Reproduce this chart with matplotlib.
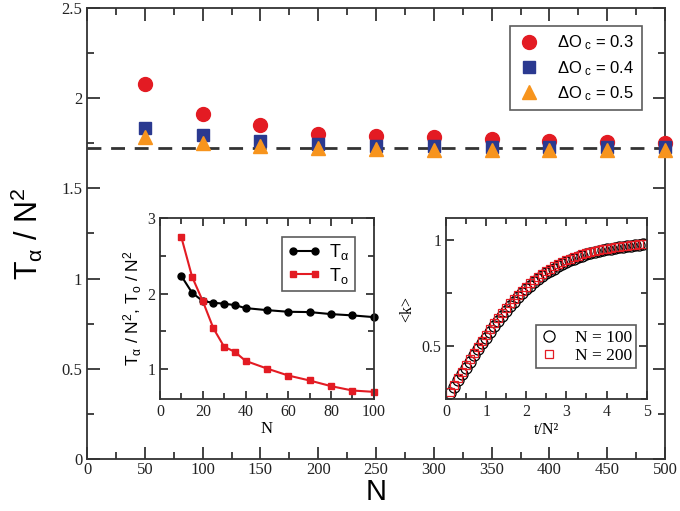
import matplotlib
matplotlib.use("Agg")
import matplotlib.pyplot as plt
from matplotlib.ticker import MultipleLocator, FormatStrFormatter

plt.rcParams['mathtext.fontset'] = 'custom'
plt.rcParams['mathtext.rm'] = 'Liberation Sans'
plt.rcParams['mathtext.it'] = 'Liberation Sans:italic'
plt.rcParams['mathtext.bf'] = 'Liberation Sans:bold'

SERIF = 'Liberation Serif'
SANS = 'Liberation Sans'

# ---- main panel data ----
N_main = [50, 100, 150, 200, 250, 300, 350, 400, 450, 500]
T_03 = [2.08, 1.91, 1.85, 1.803, 1.792, 1.783, 1.772, 1.763, 1.755, 1.754]
T_04 = [1.832, 1.797, 1.761, 1.745, 1.737, 1.734, 1.730, 1.728, 1.727, 1.727]
T_05 = [1.784, 1.753, 1.734, 1.722, 1.717, 1.713, 1.711, 1.710, 1.710, 1.710]
asymptote = 1.722
main_labels = [r'$\Delta$O$_{\ \mathregular{c}}$ = 0.3',
               r'$\Delta$O$_{\ \mathregular{c}}$ = 0.4',
               r'$\Delta$O$_{\ \mathregular{c}}$ = 0.5']

# ---- inset 1 data ----
N_in = [10, 15, 20, 25, 30, 35, 40, 50, 60, 70, 80, 90, 100]
T_alpha = [2.233, 2.011, 1.90, 1.878, 1.865, 1.847, 1.807, 1.78, 1.758, 1.754, 1.727, 1.71, 1.687]
T_o = [2.747, 2.224, 1.90, 1.537, 1.293, 1.226, 1.106, 1.004, 0.911, 0.845, 0.77, 0.712, 0.694]

# ---- inset 2 data ----
t_vals = [0.1, 0.2, 0.3, 0.4, 0.5, 0.6, 0.7, 0.8, 0.9, 1.0,
          1.1, 1.2, 1.3, 1.4, 1.5, 1.6, 1.7, 1.8, 1.9, 2.0,
          2.1, 2.2, 2.3, 2.4, 2.5, 2.6, 2.7, 2.8, 2.9, 3.0,
          3.1, 3.2, 3.3, 3.4, 3.5, 3.6, 3.7, 3.8, 3.9, 4.0,
          4.1, 4.2, 4.3, 4.4, 4.5, 4.6, 4.7, 4.8, 4.9]
k_100 = [0.281, 0.310, 0.340, 0.370, 0.398, 0.427, 0.456, 0.485, 0.513, 0.540,
         0.567, 0.593, 0.618, 0.643, 0.666, 0.688, 0.709, 0.729, 0.748, 0.766,
         0.783, 0.799, 0.814, 0.828, 0.841, 0.853, 0.864, 0.875, 0.885, 0.894,
         0.902, 0.910, 0.917, 0.924, 0.930, 0.936, 0.941, 0.946, 0.950, 0.954,
         0.958, 0.961, 0.964, 0.967, 0.970, 0.972, 0.974, 0.976, 0.978]
k_200 = [0.284, 0.316, 0.348, 0.379, 0.409, 0.439, 0.468, 0.497, 0.525, 0.553,
         0.580, 0.606, 0.631, 0.655, 0.678, 0.700, 0.721, 0.741, 0.760, 0.778,
         0.795, 0.810, 0.825, 0.839, 0.851, 0.863, 0.874, 0.884, 0.893, 0.902,
         0.910, 0.917, 0.924, 0.930, 0.936, 0.941, 0.946, 0.950, 0.954, 0.958,
         0.961, 0.964, 0.967, 0.970, 0.972, 0.974, 0.976, 0.978, 0.980]

RED = '#e31b23'
BLUE = '#2a3990'
ORANGE = '#f7941d'

fig = plt.figure(figsize=(6.8, 5.11), dpi=100)

def style_ticks(ax, size_major=7, size_minor=4, labelsize=11):
    ax.tick_params(which='both', direction='in', top=True, right=True, width=1.2, colors='#222222')
    ax.tick_params(which='major', length=size_major)
    ax.tick_params(which='minor', length=size_minor)
    ax.xaxis.set_major_formatter(FormatStrFormatter('%g'))
    ax.yaxis.set_major_formatter(FormatStrFormatter('%g'))
    for lbl in ax.get_xticklabels() + ax.get_yticklabels():
        lbl.set_fontfamily(SERIF)
        lbl.set_fontsize(labelsize)
    for s in ax.spines.values():
        s.set_linewidth(1.3)
        s.set_color('#333333')

# ---- main axes ----
ax = fig.add_axes([0.128, 0.1018, 0.850, 0.8826])
ax.axhline(asymptote, color='#333333', lw=2, ls=(0, (5, 3.5)), zorder=1)
ax.plot(N_main, T_03, 'o', color=RED, ms=10, mec=RED, label=main_labels[0], zorder=3, clip_on=False)
ax.plot(N_main, T_04, 's', color=BLUE, ms=8, mec=BLUE, label=main_labels[1], zorder=4, clip_on=False)
ax.plot(N_main, T_05, '^', color=ORANGE, ms=9.5, mec=ORANGE, label=main_labels[2], zorder=5, clip_on=False)
ax.set_xlim(0, 500)
ax.set_ylim(0, 2.5)
ax.xaxis.set_major_locator(MultipleLocator(50))
ax.xaxis.set_minor_locator(MultipleLocator(25))
ax.yaxis.set_major_locator(MultipleLocator(0.5))
ax.yaxis.set_minor_locator(MultipleLocator(0.25))
style_ticks(ax, 9, 5, 12)
ax.tick_params(axis='x', pad=2)
ax.set_xlabel('N', fontfamily=SANS, fontsize=21, labelpad=0)
ax.set_ylabel(r'T$_{\mathregular{α}}$ / N$^{2}$', fontfamily=SANS, fontsize=22, labelpad=12)
leg = ax.legend(loc='upper right', bbox_to_anchor=(0.960, 0.960), frameon=True, fancybox=False,
                edgecolor='#333333', prop={'family': SANS, 'size': 12}, handletextpad=1.0,
                borderpad=0.45, labelspacing=0.4, handlelength=1.4, borderaxespad=0)
leg.get_frame().set_linewidth(1.2)

# ---- inset 1 ----
ax1 = fig.add_axes([0.2353, 0.2193, 0.3144, 0.3535])
ax1.plot(N_in, T_alpha, '-o', color='black', ms=5, lw=1.5, label=r'T$_{\mathregular{α}}$', clip_on=False)
ax1.plot(N_in, T_o, '-s', color=RED, mec=RED, ms=5, lw=1.5, label=r'T$_{\mathregular{o}}$', clip_on=False)
ax1.set_xlim(0, 100)
ax1.set_ylim(0.6, 3.0)
ax1.xaxis.set_major_locator(MultipleLocator(20))
ax1.xaxis.set_minor_locator(MultipleLocator(10))
ax1.yaxis.set_major_locator(MultipleLocator(1))
ax1.yaxis.set_minor_locator(MultipleLocator(0.5))
style_ticks(ax1, 6, 4, 11.5)
ax1.set_xlabel('N', fontfamily=SERIF, fontsize=12, labelpad=1)
ax1.set_ylabel(r'T$_{\mathregular{α}}$ / N$^{2}$, T$_{\mathregular{o}}$ / N$^{2}$', fontfamily=SANS, fontsize=12.5, labelpad=2)
leg1 = ax1.legend(loc='upper right', bbox_to_anchor=(0.911, 0.898), frameon=True, fancybox=False,
                  edgecolor='#333333', prop={'family': SANS, 'size': 13}, numpoints=2,
                  handlelength=1.8, handletextpad=0.5, borderpad=0.3, labelspacing=0.2, borderaxespad=0)
leg1.get_frame().set_linewidth(1.2)

# ---- inset 2 ----
ax2 = fig.add_axes([0.6559, 0.2186, 0.2951, 0.3542])
ax2.plot(t_vals, k_100, 'o', mfc='none', mec='black', ms=8, mew=0.9, label='N = 100')
ax2.plot(t_vals, k_200, 's', mfc='none', mec=RED, ms=5.5, mew=0.9, label='N = 200')
ax2.set_xlim(0, 5)
ax2.set_ylim(0.25, 1.1)
ax2.xaxis.set_major_locator(MultipleLocator(1))
ax2.xaxis.set_minor_locator(MultipleLocator(0.5))
ax2.yaxis.set_major_locator(MultipleLocator(0.5))
ax2.yaxis.set_minor_locator(MultipleLocator(0.25))
style_ticks(ax2, 6, 4, 11.5)
ax2.set_xlabel('t/N²', fontfamily=SERIF, fontsize=11.5, labelpad=1)
ax2.set_ylabel('<k>', fontfamily=SERIF, fontsize=11.5, labelpad=4)
leg2 = ax2.legend(loc='lower right', bbox_to_anchor=(0.947, 0.173), frameon=True, fancybox=False,
                  edgecolor='#333333', prop={'family': SERIF, 'size': 12.5}, numpoints=1,
                  handlelength=1.0, handletextpad=1.0, borderpad=0.25, labelspacing=0.1, borderaxespad=0)
leg2.get_frame().set_linewidth(1.2)

fig.savefig('out.png', dpi=100)
